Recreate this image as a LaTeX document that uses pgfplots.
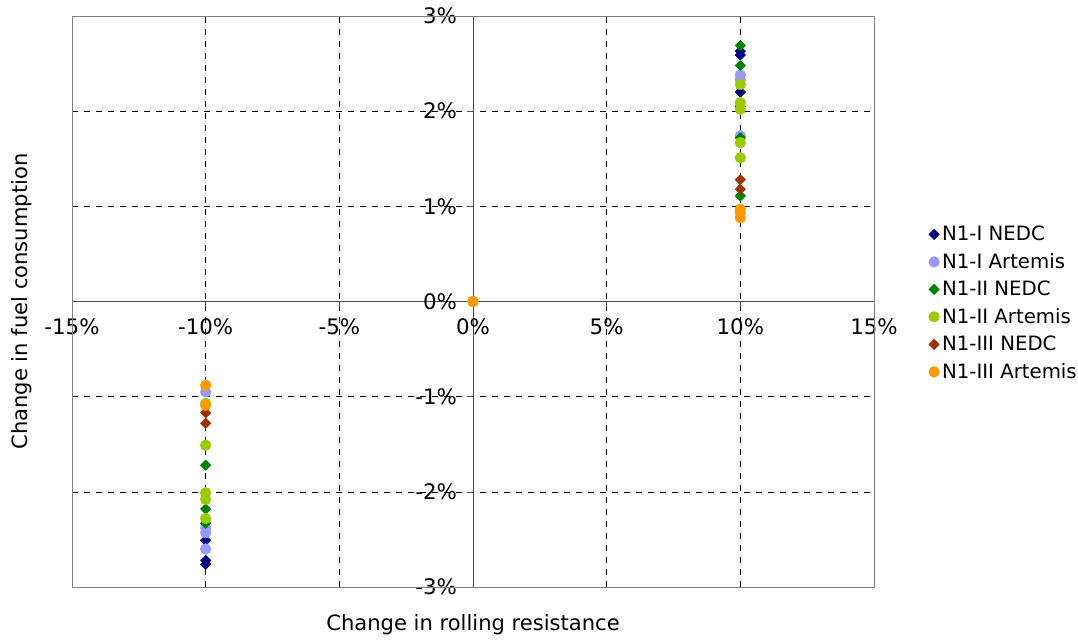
\documentclass[border=0pt]{standalone}
\usepackage{pgfplots}
\pgfplotsset{compat=1.18}
\usepackage{fontspec}
\setmainfont{DejaVu Sans}
\definecolor{cNavy}{RGB}{0,0,128}
\definecolor{cLblue}{RGB}{153,153,255}
\definecolor{cGreen}{RGB}{0,128,0}
\definecolor{cLime}{RGB}{153,204,0}
\definecolor{cBrown}{RGB}{153,51,0}
\definecolor{cOrange}{RGB}{255,153,0}
\pgfplotsset{
  dia/.style={only marks, mark=square*, mark size=2.75pt, mark options={rotate=45}},
  cir/.style={only marks, mark=*, mark size=4pt},
}
\begin{document}
\begin{tikzpicture}
\begin{axis}[
  scale only axis,
  width=601.5pt, height=428.25pt,
  xmin=-15, xmax=15, ymin=-3, ymax=3,
  axis x line=middle, axis y line=middle,
  axis line style={draw=black!70, -},
  hide obscured x ticks=false, hide obscured y ticks=false,
  xtick={-15,-10,...,15}, ytick={-3,-2,...,3},
  xticklabel={\pgfmathprintnumber{\tick}\%},
  yticklabel={\pgfmathprintnumber{\tick}\%},
  /pgf/number format/assume math mode=true,
  tick align=outside,
  major tick length=4.5pt,
  tick style={draw=black!70, thin},
  ticklabel style={font=\fontsize{16}{19}\selectfont},
  xticklabel style={yshift=-5pt},
  yticklabel style={xshift=-4pt},
  grid=major,
  major grid style={black, dash pattern=on 4.5pt off 4.5pt, thin},
  xlabel={Change in rolling resistance},
  ylabel={Change in fuel consumption},
  label style={font=\fontsize{15.8}{19}\selectfont},
  xlabel style={at={(axis description cs:0.5,0)}, anchor=center, yshift=-28.5pt},
  ylabel style={at={(axis description cs:0,0.5)}, anchor=center, rotate=90, yshift=37.5pt},
  legend style={draw=none, fill=none, at={(axis description cs:1.068,0.497)}, anchor=west,
    font=\fontsize{14.8}{18}\selectfont, row sep=4pt, inner sep=0pt,
    legend cell align=left},
  legend image code/.code={\draw[#1] plot coordinates {(0.1cm,0cm)};},
  clip=false,
]
\draw[black!50] (rel axis cs:0,0) rectangle (rel axis cs:1,1);
\coordinate (sw) at (rel axis cs:0,0);
\addplot[dia, color=cNavy] coordinates {
 (10,2.63) (10,2.59) (10,2.20) (10,2.05) (-10,-2.51) (-10,-2.72) (-10,-2.76) (0,0)};
\addlegendentry{N1-I NEDC}
\addplot[cir, color=cLblue] coordinates {
 (10,2.38) (10,2.33) (10,1.74) (-10,-0.95) (-10,-2.38) (-10,-2.43) (-10,-2.60) (0,0)};
\addlegendentry{N1-I Artemis}
\addplot[dia, color=cGreen] coordinates {
 (10,2.69) (10,2.48) (10,1.72) (10,1.11) (-10,-1.72) (-10,-2.18) (-10,-2.33) (0,0)};
\addlegendentry{N1-II NEDC}
\addplot[cir, color=cLime] coordinates {
 (10,2.28) (10,2.09) (10,2.02) (10,1.67) (10,1.51) (-10,-1.07) (-10,-1.51) (-10,-2.01) (-10,-2.08) (-10,-2.28) (0,0)};
\addlegendentry{N1-II Artemis}
\addplot[dia, color=cBrown] coordinates {
 (10,1.28) (10,1.18) (-10,-1.17) (-10,-1.28) (0,0)};
\addlegendentry{N1-III NEDC}
\addplot[cir, color=cOrange] coordinates {
 (10,0.97) (10,0.93) (10,0.88) (-10,-0.88) (-10,-1.09) (0,0)};
\addlegendentry{N1-III Artemis}
\end{axis}
\pgfresetboundingbox
\useasboundingbox ([xshift=-54pt,yshift=-39pt]sw) rectangle ++(808.5pt,479.25pt);
\end{tikzpicture}
\end{document}
